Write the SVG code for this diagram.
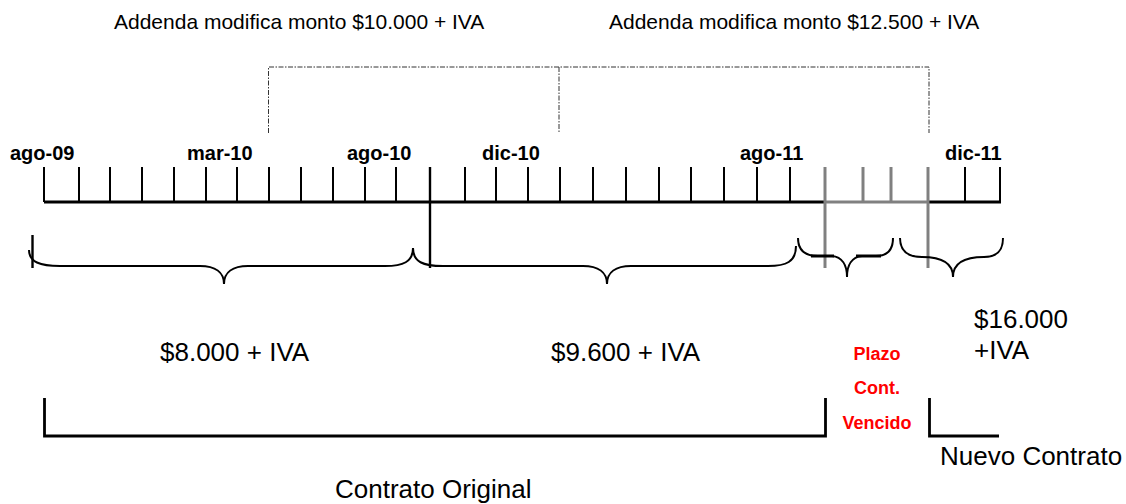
<svg xmlns="http://www.w3.org/2000/svg" width="1126" height="504" viewBox="0 0 1126 504">
<style>
  text { font-family: "Liberation Sans", Arial, sans-serif; fill: #000; }
  .top { font-size: 21px; }
  .mon { font-size: 20px; font-weight: bold; }
  .big { font-size: 26px; }
  .red { font-size: 18px; font-weight: bold; fill: #ff0000; text-anchor: middle; }
  .tick { stroke: #000; stroke-width: 2; }
  .gtick { stroke: #808080; stroke-width: 3; }
  .brace { fill: none; stroke: #000; stroke-width: 2; }
  .bracket { fill: none; stroke: #000; stroke-width: 2.8; }
  .dash { fill: none; stroke: #333; stroke-width: 1; stroke-dasharray: 5 1.5 1.5 1.5; }
</style>
<rect width="1126" height="504" fill="#fff"/>

<g id="labels-top">
  <text class="top" x="114" y="29">Addenda modifica monto $10.000 + IVA</text>
  <text class="top" x="609" y="29">Addenda modifica monto $12.500 + IVA</text>
</g>

<g id="addenda-frame">
  <path class="dash" d="M268.5,133 V67 H929 V133 M559,67 V133"/>
</g>

<g id="months">
  <text class="mon" x="10" y="160">ago-09</text>
  <text class="mon" x="187" y="160">mar-10</text>
  <text class="mon" x="347" y="160">ago-10</text>
  <text class="mon" x="482" y="160">dic-10</text>
  <text class="mon" x="740" y="160">ago-11</text>
  <text class="mon" x="945" y="160">dic-11</text>
</g>

<g id="timeline">
  <line x1="44" y1="202" x2="825" y2="202" stroke="#000" stroke-width="2.8"/>
  <line x1="825" y1="202" x2="928" y2="202" stroke="#808080" stroke-width="2.8"/>
  <line x1="928" y1="202" x2="1001" y2="202" stroke="#000" stroke-width="2.8"/>
  <g class="tick">
    <line x1="44" y1="167" x2="44" y2="202"/>
    <line x1="79" y1="167" x2="79" y2="202"/>
    <line x1="110" y1="167" x2="110" y2="202"/>
    <line x1="142" y1="167" x2="142" y2="202"/>
    <line x1="174" y1="167" x2="174" y2="202"/>
    <line x1="206" y1="167" x2="206" y2="202"/>
    <line x1="237" y1="167" x2="237" y2="202"/>
    <line x1="269" y1="167" x2="269" y2="202"/>
    <line x1="301" y1="167" x2="301" y2="202"/>
    <line x1="333" y1="167" x2="333" y2="202"/>
    <line x1="365" y1="167" x2="365" y2="202"/>
    <line x1="396" y1="167" x2="396" y2="202"/>
    <line x1="430" y1="167" x2="430" y2="268" stroke-width="2.4"/>
    <line x1="465" y1="167" x2="465" y2="202"/>
    <line x1="496" y1="167" x2="496" y2="202"/>
    <line x1="528" y1="167" x2="528" y2="202"/>
    <line x1="560" y1="167" x2="560" y2="202"/>
    <line x1="593" y1="167" x2="593" y2="202"/>
    <line x1="626" y1="167" x2="626" y2="202"/>
    <line x1="659" y1="167" x2="659" y2="202"/>
    <line x1="691" y1="167" x2="691" y2="202"/>
    <line x1="724" y1="167" x2="724" y2="202"/>
    <line x1="757" y1="167" x2="757" y2="202"/>
    <line x1="790" y1="167" x2="790" y2="202"/>
    <line x1="965" y1="167" x2="965" y2="202"/>
    <line x1="1000" y1="167" x2="1000" y2="202"/>
  </g>
  <g class="gtick">
    <line x1="825" y1="167" x2="825" y2="268"/>
    <line x1="863" y1="167" x2="863" y2="202"/>
    <line x1="891" y1="167" x2="891" y2="202"/>
    <line x1="928" y1="167" x2="928" y2="268"/>
  </g>
  <line x1="32.5" y1="235" x2="32.5" y2="268" stroke="#000" stroke-width="2.4"/>
</g>

<g id="braces">
  <path class="brace" d="M29,250 C29,262 40,266 60,266 L200,266 C215,266 224,272 224,284 C224,272 233,266 248,266 L385,266 C403,266 413,262 413,248"/>
  <path class="brace" d="M413,248 C413,262 423,266 443,266 L583,266 C598,266 607,272 607,284 C607,272 616,266 631,266 L768,266 C786,266 796,262 796,246"/>
  <path class="brace" d="M798,238 C798,250 804,256 818,256 L832,256 C842,257 847,265 847,277 C847,265 852,257 862,256 L876,256 C888,256 893,250 893,238"/>
  <path class="brace" d="M900,238 C900,250 907,257 922,257 C940,257 953,262 953,277 C953,262 966,257 984,257 C998,257 1003,250 1003,238"/>
  <line x1="811" y1="256" x2="834" y2="256" stroke="#000" stroke-width="3"/>
  <line x1="856" y1="256" x2="881" y2="256" stroke="#000" stroke-width="3"/>
</g>

<g id="amounts">
  <text class="big" x="160" y="361">$8.000 + IVA</text>
  <text class="big" x="551" y="361">$9.600 + IVA</text>
  <text class="big" x="974" y="328">$16.000</text>
  <text class="big" x="974" y="359">+IVA</text>
</g>

<g id="plazo-vencido">
  <text class="red" x="877" y="360">Plazo</text>
  <text class="red" x="877" y="394">Cont.</text>
  <text class="red" x="877" y="429">Vencido</text>
</g>

<g id="contrato-original">
  <path class="bracket" d="M44.5,398 V436 H825.5 V398"/>
  <text class="big" x="335" y="498">Contrato Original</text>
</g>

<g id="nuevo-contrato">
  <path class="bracket" d="M929.5,398 V436 H999"/>
  <text class="big" x="940" y="465">Nuevo Contrato</text>
</g>
</svg>
